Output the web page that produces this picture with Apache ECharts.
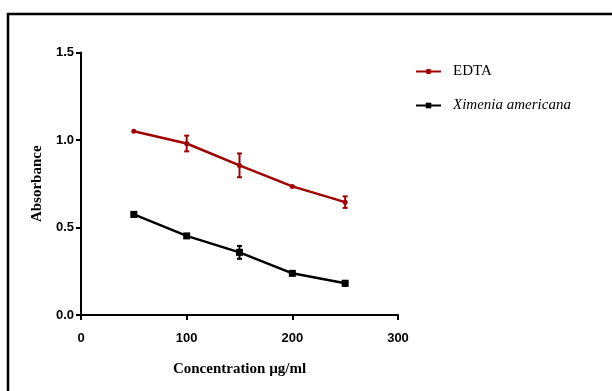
<!DOCTYPE html>
<html><head><meta charset="utf-8">
<script src="https://cdn.jsdelivr.net/npm/echarts@6/dist/echarts.min.js"></script>
<style>html,body{margin:0;padding:0;background:#fff}#c{width:612px;height:391px}</style>
</head><body><div id="c"></div>
<script>
const concentrations = [50, 100, 150, 200, 250];
const edtaMean = [1.05, 0.98, 0.855, 0.735, 0.645];
const edtaErr = [0.0, 0.045, 0.068, 0.0, 0.033];
const ximMean = [0.575, 0.452, 0.358, 0.238, 0.181];
const ximErr = [0.012, 0.01, 0.037, 0.0, 0.014];
const xTicks = [0, 100, 200, 300];
const yTicks = [0.0, 0.5, 1.0, 1.5];

const RED = '#a00000';
const BLACK = '#000000';

function pairs(xs, ys) { return xs.map((x, i) => [x, ys[i]]); }
function errData(xs, m, e) { return xs.map((x, i) => [x, m[i] - e[i], m[i] + e[i]]); }

function errSeries(name, data, color) {
  return {
    type: 'custom', name: name + ' err', silent: true, z: 3,
    data: data,
    encode: { x: 0, y: [1, 2] },
    renderItem: function (params, api) {
      const x = api.value(0), lo = api.value(1), hi = api.value(2);
      if (hi - lo <= 0) return null;
      const p1 = api.coord([x, lo]), p2 = api.coord([x, hi]);
      const w = 2.5;
      const st = { stroke: color, lineWidth: 2 };
      return { type: 'group', children: [
        { type: 'line', shape: { x1: p1[0], y1: p1[1], x2: p2[0], y2: p2[1] }, style: st },
        { type: 'line', shape: { x1: p1[0] - w, y1: p1[1], x2: p1[0] + w, y2: p1[1] }, style: st },
        { type: 'line', shape: { x1: p2[0] - w, y1: p2[1], x2: p2[0] + w, y2: p2[1] }, style: st }
      ]};
    }
  };
}

const chart = echarts.init(document.getElementById('c'), null, { renderer: 'canvas' });
const tickFont = { fontFamily: 'Liberation Sans', fontWeight: 'bold', fontSize: 13, color: '#000' };
chart.setOption({
  animation: false,
  backgroundColor: '#fff',
  grid: { left: 81, right: 214, top: 52.5, bottom: 76, containLabel: false },
  graphic: [
    { type: 'polyline', shape: { points: [[8, 400], [8, 14], [620, 14]] }, style: { stroke: '#000', lineWidth: 2.5, fill: null }, z: 10 }
  ],
  legend: {
    orient: 'vertical', left: 415, top: 64, itemGap: 19, padding: 0,
    itemWidth: 25, itemHeight: 7,
    data: [
      { name: 'EDTA', textStyle: { fontFamily: 'Liberation Serif', fontSize: 15, color: '#000' } },
      { name: 'Ximenia americana', textStyle: { fontFamily: 'Liberation Serif', fontStyle: 'italic', fontSize: 15, color: '#000' } }
    ],
    textStyle: { padding: [0, 0, 0, 7] }
  },
  xAxis: {
    type: 'value', min: 0, max: 300, interval: 100,
    name: 'Concentration µg/ml', nameLocation: 'middle', nameGap: 47,
    nameTextStyle: { fontFamily: 'Liberation Serif', fontWeight: 'bold', fontSize: 15, color: '#000' },
    axisLine: { show: true, onZero: false, lineStyle: { color: '#000', width: 2 } },
    axisTick: { show: true, length: 5, lineStyle: { color: '#000', width: 2 } },
    axisLabel: Object.assign({ margin: 17, customValues: xTicks }, tickFont),
    splitLine: { show: false }
  },
  yAxis: {
    type: 'value', min: 0, max: 1.5, interval: 0.5,
    name: 'Absorbance', nameLocation: 'middle', nameGap: 35, nameRotate: 90,
    nameTextStyle: { fontFamily: 'Liberation Serif', fontWeight: 'bold', fontSize: 15, color: '#000' },
    axisLine: { show: true, onZero: false, lineStyle: { color: '#000', width: 2 } },
    axisTick: { show: true, length: 5, lineStyle: { color: '#000', width: 2 } },
    axisLabel: Object.assign({ margin: 7, formatter: v => v.toFixed(1) }, tickFont),
    splitLine: { show: false }
  },
  series: [
    { name: 'EDTA', type: 'line', data: pairs(concentrations, edtaMean), color: RED,
      lineStyle: { color: RED, width: 2.5 }, symbol: 'circle', symbolSize: 5,
      itemStyle: { color: RED }, z: 4 },
    { name: 'Ximenia americana', type: 'line', data: pairs(concentrations, ximMean), color: BLACK,
      lineStyle: { color: BLACK, width: 2.5 }, symbol: 'rect', symbolSize: 7,
      itemStyle: { color: BLACK }, z: 4 },
    errSeries('EDTA', errData(concentrations, edtaMean, edtaErr), RED),
    errSeries('Ximenia americana', errData(concentrations, ximMean, ximErr), BLACK)
  ]
});
</script></body></html>
